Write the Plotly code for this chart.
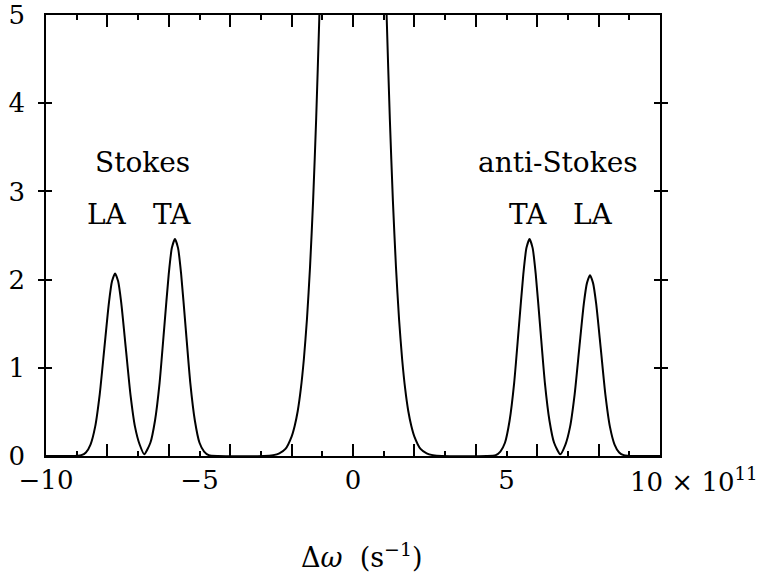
import plotly.graph_objects as go

# Brillouin-type spectrum: central line plus Stokes / anti-Stokes LA and TA peaks
# frequency shift in units of 1e11 s^-1
omega = [
    -10.0, -9.2, -8.85, -8.7, -8.55, -8.4, -8.25, -8.1, -7.95, -7.85, -7.75,
    -7.65, -7.55, -7.4, -7.25, -7.1, -6.95, -6.8, -6.6, -6.45, -6.3, -6.15,
    -6.0, -5.9, -5.8, -5.7, -5.6, -5.45, -5.3, -5.15, -5.0, -4.85, -4.7, -4.4,
    -2.9, -2.6, -2.4, -2.2, -2.0, -1.9, -1.8, -1.7, -1.6, -1.5, -1.4, -1.3,
    -1.2, -1.1, -1.0, -0.9, 0.0,
    0.9, 1.0, 1.1, 1.2, 1.3, 1.4, 1.5, 1.6, 1.7, 1.8, 1.9, 2.0, 2.2, 2.4, 2.6,
    2.9, 4.35, 4.65, 4.8, 4.95, 5.1, 5.25, 5.4, 5.55, 5.65, 5.75, 5.85, 5.95,
    6.1, 6.25, 6.4, 6.55, 6.75, 6.92, 7.07, 7.22, 7.37, 7.52, 7.62, 7.72, 7.82,
    7.92, 8.07, 8.22, 8.37, 8.52, 8.67, 8.82, 9.2, 10.0,
]
intensity = [
    0.0, 0.0, 0.01, 0.04, 0.13, 0.33, 0.70, 1.22, 1.74, 1.98, 2.07,
    1.98, 1.74, 1.22, 0.70, 0.33, 0.13, 0.02, 0.15, 0.40, 0.83, 1.45,
    2.07, 2.36, 2.46, 2.36, 2.07, 1.45, 0.83, 0.40, 0.15, 0.05, 0.01, 0.0,
    0.0, 0.01, 0.03, 0.08, 0.22, 0.34, 0.51, 0.76, 1.10, 1.55, 2.14, 2.89,
    3.82, 4.94, 6.24, 7.71, 19.0,
    7.71, 6.24, 4.94, 3.82, 2.89, 2.14, 1.55, 1.10, 0.76, 0.51, 0.34, 0.22,
    0.08, 0.03, 0.01,
    0.0, 0.0, 0.01, 0.05, 0.15, 0.40, 0.83, 1.45, 2.07, 2.36, 2.46, 2.36, 2.07,
    1.45, 0.83, 0.40, 0.15, 0.02, 0.13, 0.33, 0.70, 1.22, 1.73, 1.96, 2.05, 1.96,
    1.73, 1.22, 0.70, 0.33, 0.13, 0.04, 0.01, 0.0, 0.0,
]

x_label_vals = [-10, -5, 0, 5]
x_label_text = ["\u221210", "\u22125", "0", "5"]
y_tick_vals = [0, 1, 2, 3, 4, 5]

FONT = "DejaVu Serif"
INK = "black"

fig = go.Figure()
fig.add_trace(go.Scatter(
    x=omega, y=intensity, mode="lines",
    line=dict(color=INK, width=2, shape="spline", smoothing=0.6),
    showlegend=False, hoverinfo="skip",
))
# invisible trace to attach the labelled overlay axis
fig.add_trace(go.Scatter(x=[-10, 10], y=[0, 0], xaxis="x2", mode="lines",
                         line=dict(width=0), showlegend=False, hoverinfo="skip"))

fig.update_layout(
    width=771, height=579,
    margin=dict(l=46, r=111, t=15, b=123),
    paper_bgcolor="white", plot_bgcolor="white",
    template="none",
    font=dict(family=FONT, color=INK, size=26),
    xaxis=dict(
        range=[-10, 10], showgrid=False, zeroline=False,
        showline=True, linecolor=INK, linewidth=1.5, mirror="allticks",
        tickmode="linear", tick0=0, dtick=2, ticks="inside", ticklen=12,
        tickwidth=1.5, tickcolor=INK, showticklabels=False,
        minor=dict(dtick=1, tick0=0, ticks="inside", ticklen=5,
                   tickwidth=1.5, tickcolor=INK, showgrid=False),
        automargin=False,
    ),
    xaxis2=dict(
        range=[-10, 10], overlaying="x", side="bottom", anchor="y",
        showgrid=False, zeroline=False, showline=False, ticks="",
        tickmode="array", tickvals=x_label_vals, ticktext=x_label_text,
        ticklabelstandoff=6, ticklabeloverflow="allow", automargin=False,
    ),
    yaxis=dict(
        range=[0, 5], showgrid=False, zeroline=False,
        showline=True, linecolor=INK, linewidth=1.5, mirror="allticks",
        tickmode="array", tickvals=y_tick_vals, ticks="inside", ticklen=6,
        tickwidth=1.5, tickcolor=INK, ticklabelstandoff=14,
        ticklabeloverflow="allow", automargin=False,
    ),
)

label_font = dict(family=FONT, size=28, color=INK)
for text, x, y in [
    ("Stokes", -6.87, 3.33),
    ("LA", -8.0, 2.74),
    ("TA", -5.9, 2.74),
    ("anti-Stokes", 6.68, 3.33),
    ("TA", 5.70, 2.74),
    ("LA", 7.82, 2.74),
]:
    fig.add_annotation(x=x, y=y, xref="x", yref="y", text=text, showarrow=False,
                       font=label_font, xanchor="center", yanchor="middle")

# scale factor next to the last tick value
fig.add_annotation(x=10, y=0, xref="x", yref="y", xanchor="left", yanchor="top",
                   xshift=-32, yshift=-5, showarrow=False,
                   text="10 \u00d7 10<sup>11</sup>", font=dict(family=FONT, size=26, color=INK))

# axis title
fig.add_annotation(x=0.3, y=0, xref="x", yref="y", xanchor="center", yanchor="middle",
                   yshift=-99, showarrow=False,
                   text="\u0394<i>\u03c9</i>  (s<sup>\u22121</sup>)",
                   font=dict(family=FONT, size=27, color=INK))

fig.write_html("out.html")
